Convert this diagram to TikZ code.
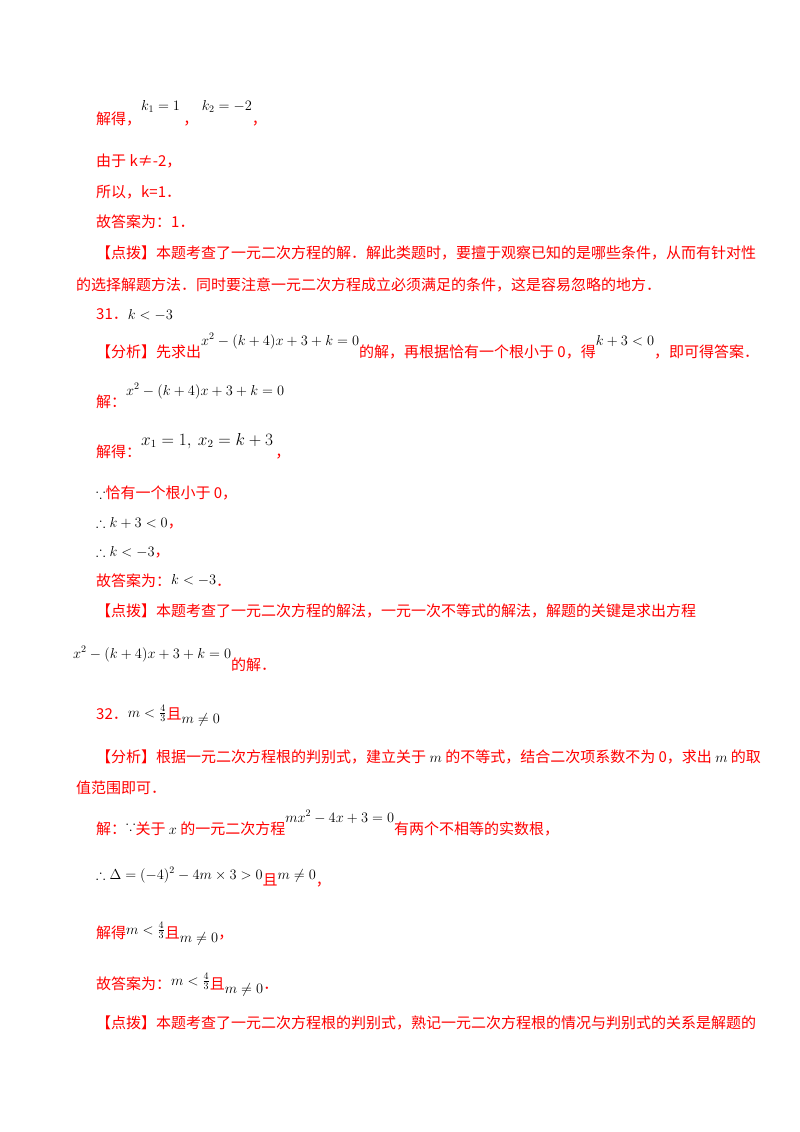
\documentclass[tikz,border=0pt]{standalone}
\usepackage{amssymb}
\usepackage{fontspec}
\setmainfont{Liberation Serif}
\newfontfamily\cjk{Noto Sans CJK SC}
\newcommand{\mb}[2][0pt]{\raisebox{#1}{\color{black}\fontsize{14}{14}\selectfont$#2$}}
\begin{document}
\begin{tikzpicture}[x=1pt,y=-1pt,
 rt/.style={anchor=base west,inner sep=0,text=red,font=\cjk\fontsize{15}{15}\selectfont}]
\useasboundingbox (0,0) rectangle (800,1132);
\fill[white] (0,0) rectangle (800,1132);
\node[rt] (a1) at (96,124) {解得，\mb[14pt]{k_1=1}\ ，\ \mb[14pt]{k_2=-2}，};
\node[rt] (b1) at (96,166) {由于 k≠-2，};
\node[rt] (b2) at (96,197) {所以，k=1．};
\node[rt] (b3) at (96,227) {故答案为：1．};
\node[rt] (b4) at (96,258) {【点拨】本题考查了一元二次方程的解．解此类题时，要擅于观察已知的是哪些条件，从而有针对性};
\node[rt] (b5) at (76,290) {的选择解题方法．同时要注意一元二次方程成立必须满足的条件，这是容易忽略的地方．};
\node[rt] (c1) at (96,319) {31．\mb{k<-3}};
\node[rt] (d1) at (96,357) {【分析】先求出\mb[12pt]{x^2-(k+4)x+3+k=0}的解，再根据恰有一个根小于 0，得\mb[12pt]{k+3<0}，即可得答案．};
\node[rt] (e1) at (96,407) {解：\mb[12pt]{x^2-(k+4)x+3+k=0}};
\node[rt] (f1) at (96,457) {解得：\raisebox{12pt}{\color{black}\fontsize{16}{16}\selectfont$x_1=1,\ x_2=k+3$}\,，};
\node[rt] (g1) at (96,498) {\mb{\because}恰有一个根小于 0，};
\node[rt] (g2) at (96,527) {\mb{\therefore k+3<0}，};
\node[rt] (h2) at (96,556) {\mb{\therefore k<-3}，};
\node[rt] (i1) at (96,586) {故答案为：\mb[2pt]{k<-3}．};
\node[rt] (j1) at (96,616) {【点拨】本题考查了一元二次方程的解法，一元一次不等式的解法，解题的关键是求出方程};
\node[rt] (k1) at (73,670) {\mb[12pt]{x^2-(k+4)x+3+k=0}的解．};
\node[rt] (l1) at (96,719) {32．\mb[2pt]{m<\frac{4}{3}}且\mb[-4pt]{m\neq0}};
\node[rt] (m1) at (96,762) {【分析】根据一元二次方程根的判别式，建立关于 \mb{m} 的不等式，结合二次项系数不为 0，求出 \mb{m} 的取};
\node[rt] (m2) at (76,793) {值范围即可．};
\node[rt] (n1) at (96,834) {解：\mb[4pt]{\because}关于 \mb{x} 的一元二次方程\mb[12pt]{mx^2-4x+3=0}有两个不相等的实数根，};
\node[rt] (o1) at (96,885) {\mb[6pt]{\therefore\Delta=(-4)^2-4m\times3>0}且\mb[6pt]{m\neq0}，};
\node[rt] (p1) at (96,938) {解得\mb[4pt]{m<\frac{4}{3}}且\mb[-4pt]{m\neq0}，};
\node[rt] (q1) at (96,989) {故答案为：\mb[4pt]{m<\frac{4}{3}}且\mb[-4pt]{m\neq0}．};
\node[rt] (r1) at (96,1028) {【点拨】本题考查了一元二次方程根的判别式，熟记一元二次方程根的情况与判别式的关系是解题的};
\end{tikzpicture}
\end{document}
